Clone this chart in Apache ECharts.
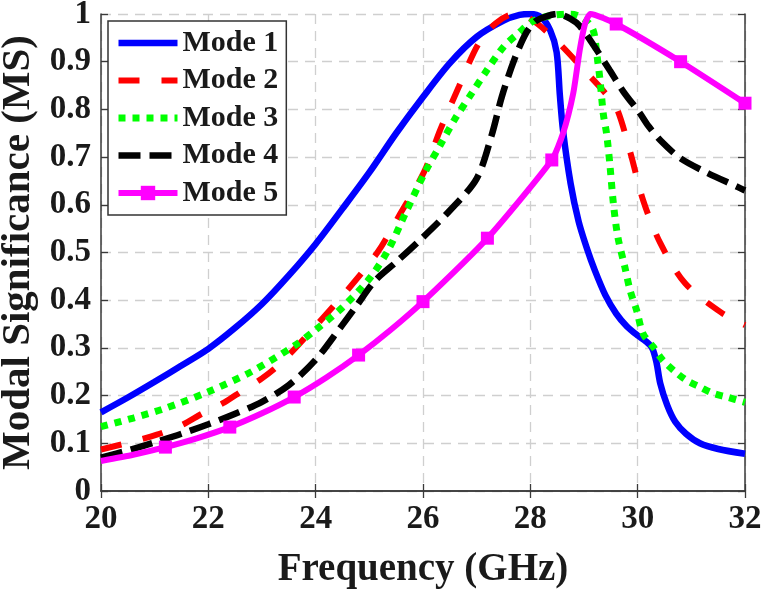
<!DOCTYPE html>
<html>
<head>
<meta charset="utf-8">
<script src="https://cdn.jsdelivr.net/npm/echarts@6/dist/echarts.min.js"></script>
<style>
html,body{margin:0;padding:0;background:#fff;}
#chart{width:766px;height:594px;}
</style>
</head>
<body>
<div id="chart"></div>
<script>
// ---- data ----
var seriesNames = ['Mode 1', 'Mode 2', 'Mode 3', 'Mode 4', 'Mode 5'];
var xTicks = [20, 22, 24, 26, 28, 30, 32];
var yTicks = [0, 0.1, 0.2, 0.3, 0.4, 0.5, 0.6, 0.7, 0.8, 0.9, 1];

var mode1X = [20, 20.5, 21, 21.5, 22, 22.5, 23, 23.5, 24, 24.5, 25, 25.5, 26, 26.5, 27, 27.5, 27.8, 28, 28.2, 28.37, 28.49, 28.55, 28.61, 28.75, 28.9, 29.05, 29.2, 29.4, 29.6, 29.8, 30.0, 30.15, 30.27, 30.35, 30.42, 30.55, 30.7, 30.9, 31.16, 31.5, 32];
var mode1Y = [0.165, 0.196, 0.229, 0.263, 0.298, 0.342, 0.392, 0.452, 0.518, 0.592, 0.668, 0.75, 0.826, 0.897, 0.952, 0.986, 0.998, 1.0, 0.993, 0.966, 0.92, 0.83, 0.755, 0.645, 0.565, 0.51, 0.463, 0.41, 0.372, 0.345, 0.326, 0.314, 0.30, 0.27, 0.226, 0.18, 0.145, 0.12, 0.10, 0.088, 0.078];

var mode2X = [20, 20.5, 21.04, 21.5, 21.88, 22.3, 22.63, 23.0, 23.34, 23.91, 24.56, 25.15, 25.57, 26.02, 26.32, 26.67, 27.03, 27.35, 27.7, 28.0, 28.46, 29.09, 29.35, 29.6, 29.86, 30.1, 30.42, 30.88, 31.56, 32];
var mode2Y = [0.087, 0.101, 0.118, 0.138, 0.162, 0.186, 0.21, 0.236, 0.267, 0.335, 0.417, 0.50, 0.58, 0.669, 0.757, 0.848, 0.937, 0.98, 1.0, 0.99, 0.947, 0.872, 0.84, 0.805, 0.711, 0.61, 0.52, 0.436, 0.374, 0.348];

var mode3X = [20, 20.6, 21.19, 22.0, 22.8, 23.61, 24.0, 24.5, 25.0, 25.35, 25.7, 26.04, 26.32, 26.6, 26.91, 27.19, 27.5, 27.78, 28.05, 28.4, 28.74, 29.0, 29.17, 29.24, 29.3, 29.36, 29.42, 29.48, 29.55, 29.63, 29.76, 29.86, 29.98, 30.1, 30.29, 30.47, 30.7, 30.91, 31.16, 31.4, 31.66, 32];
var mode3Y = [0.135, 0.153, 0.173, 0.208, 0.25, 0.305, 0.338, 0.385, 0.445, 0.505, 0.589, 0.669, 0.725, 0.781, 0.834, 0.882, 0.931, 0.96, 0.985, 0.997, 1.0, 0.99, 0.966, 0.915, 0.86, 0.79, 0.75, 0.687, 0.60, 0.533, 0.47, 0.42, 0.379, 0.33, 0.302, 0.274, 0.25, 0.232, 0.218, 0.205, 0.197, 0.186];

var mode4X = [20, 20.5, 21, 21.5, 22, 22.5, 23, 23.5, 24, 24.45, 24.76, 25.1, 25.5, 26.0, 26.5, 27.0, 27.28, 27.47, 27.71, 27.93, 28.1, 28.3, 28.5, 28.75, 28.92, 29.24, 29.48, 29.73, 30.04, 30.2, 30.45, 30.79, 31.26, 31.87, 32];
var mode4Y = [0.07, 0.085, 0.102, 0.12, 0.14, 0.162, 0.187, 0.222, 0.275, 0.341, 0.388, 0.44, 0.48, 0.532, 0.588, 0.655, 0.746, 0.827, 0.907, 0.962, 0.985, 0.995, 1.0, 0.99, 0.975, 0.924, 0.882, 0.838, 0.792, 0.765, 0.732, 0.698, 0.669, 0.637, 0.63];

var mode5X = [20, 20.6, 21.2, 21.8, 22.4, 23.0, 23.6, 24.2, 24.8, 25.4, 26.0, 27.2, 28.4, 28.61, 28.8, 28.92, 29.02, 29.12, 29.6, 30.8, 32];
var mode5Y = [0.063, 0.076, 0.092, 0.111, 0.134, 0.163, 0.197, 0.238, 0.285, 0.338, 0.397, 0.53, 0.694, 0.75, 0.834, 0.924, 0.98, 1.0, 0.979, 0.90, 0.813];
var mode5Markers = [21.2, 22.4, 23.6, 24.8, 26.0, 27.2, 28.4, 29.6, 30.8, 32];

// ---- build ----
function pairs(xs, ys) { return xs.map(function (x, i) { return [x, ys[i]]; }); }
var mode5Data = mode5X.map(function (x, i) {
  return { value: [x, mode5Y[i]], symbol: mode5Markers.indexOf(x) >= 0 ? 'rect' : 'none' };
});

var FONT = '"Liberation Serif", "Times New Roman", serif';
var TXT = '#1a1a1a';
var FRAME = '#3a3a3a';

var chart = echarts.init(document.getElementById('chart'), null, { renderer: 'canvas' });

var baseAxisLine = { show: true, lineStyle: { color: FRAME, width: 1.5 } };
var baseTick = { show: true, inside: true, length: 7, lineStyle: { color: FRAME, width: 1.3 } };
var gridLine = { show: true, lineStyle: { color: '#cfcfcf', width: 1.3, type: [10, 7] } };

var option = {
  backgroundColor: '#ffffff',
  animation: false,
  grid: { left: 101, right: 21, top: 14, bottom: 103, containLabel: false, outerBoundsMode: 'none' },
  xAxis: [{
    type: 'value', position: 'bottom', min: xTicks[0], max: xTicks[xTicks.length - 1], interval: 2,
    axisLine: baseAxisLine, axisTick: baseTick, splitLine: gridLine,
    axisLabel: { margin: 12, fontFamily: FONT, fontWeight: 'bold', fontSize: 33, color: TXT },
    name: 'Frequency (GHz)', nameLocation: 'middle', nameGap: 59,
    nameTextStyle: { fontFamily: FONT, fontWeight: 'bold', fontSize: 39, color: TXT }
  }, {
    type: 'value', position: 'top', min: xTicks[0], max: xTicks[xTicks.length - 1], interval: 2,
    axisLine: baseAxisLine, axisTick: baseTick, splitLine: { show: false }, axisLabel: { show: false }
  }],
  yAxis: [{
    type: 'value', position: 'left', min: yTicks[0], max: yTicks[yTicks.length - 1], interval: 0.1,
    axisLine: baseAxisLine, axisTick: baseTick, splitLine: gridLine,
    axisLabel: { margin: 10, fontFamily: FONT, fontWeight: 'bold', fontSize: 33, color: TXT,
      formatter: function (v) { return String(+v.toFixed(1)); } },
    name: 'Modal Significance (MS)', nameLocation: 'middle', nameGap: 61, nameRotate: 90,
    nameTextStyle: { fontFamily: FONT, fontWeight: 'bold', fontSize: 41, color: TXT }
  }, {
    type: 'value', position: 'right', min: yTicks[0], max: yTicks[yTicks.length - 1], interval: 0.1,
    axisLine: baseAxisLine, axisTick: baseTick, splitLine: { show: false }, axisLabel: { show: false }
  }],
  legend: {
    orient: 'vertical', left: 108, top: 21,
    backgroundColor: '#ffffff', borderColor: '#333', borderWidth: 1.5, borderRadius: 0,
    padding: [7, 8, 7, 7], itemGap: 7.5, itemWidth: 59, itemHeight: 18,
    textStyle: { fontFamily: FONT, fontWeight: 'bold', fontSize: 30, color: TXT, lineHeight: 30 },
    lineStyle: { width: 'inherit' },
    data: [
      { name: seriesNames[0], itemStyle: { opacity: 0 } },
      { name: seriesNames[1], itemStyle: { opacity: 0 } },
      { name: seriesNames[2], itemStyle: { opacity: 0 } },
      { name: seriesNames[3], itemStyle: { opacity: 0 } },
      { name: seriesNames[4] }
    ]
  },
  series: [
    { name: seriesNames[0], type: 'line', data: pairs(mode1X, mode1Y), smooth: 0.3, symbol: 'none',
      color: '#0000ff', lineStyle: { color: '#0000ff', width: 6.5, type: 'solid' } },
    { name: seriesNames[1], type: 'line', data: pairs(mode2X, mode2Y), smooth: 0.3, symbol: 'none',
      color: '#ff0000', lineStyle: { color: '#ff0000', width: 6, type: [21, 22], cap: 'butt' } },
    { name: seriesNames[2], type: 'line', data: pairs(mode3X, mode3Y), smooth: 0.3, symbol: 'none',
      color: '#00ff00', lineStyle: { color: '#00ff00', width: 7, type: [7, 7], cap: 'butt' } },
    { name: seriesNames[3], type: 'line', data: pairs(mode4X, mode4Y), smooth: 0.3, symbol: 'none',
      color: '#000000', lineStyle: { color: '#000000', width: 6.5, type: [22, 9], cap: 'butt' } },
    { name: seriesNames[4], type: 'line', data: mode5Data, smooth: 0.2, symbol: 'rect', symbolSize: 13,
      showSymbol: true, showAllSymbol: true,
      color: '#ff00ff', itemStyle: { color: '#ff00ff' }, lineStyle: { color: '#ff00ff', width: 6 } }
  ]
};
chart.setOption(option);
</script>
</body>
</html>
